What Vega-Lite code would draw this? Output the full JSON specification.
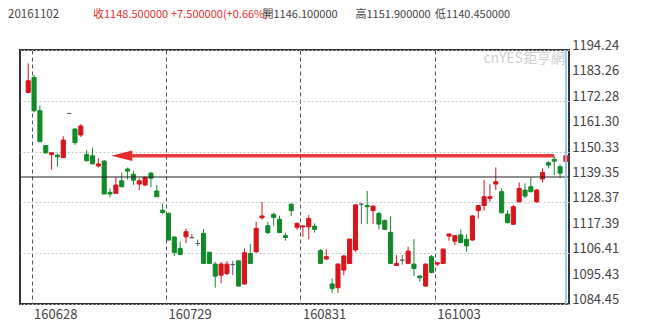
{
  "$schema": "https://vega.github.io/schema/vega-lite/v6.json",
  "width": 549,
  "height": 254,
  "autosize": {"type": "none"},
  "padding": {"left": 20, "top": 50, "right": 81, "bottom": 26},
  "background": "white",
  "config": {
    "view": {"stroke": "#333333", "strokeWidth": 2},
    "font": "Noto Sans CJK TC",
    "text": {"font": "Noto Sans CJK TC"}
  },
  "datasets": {
    "k": [
      {"d":"160627","o":1175.9,"h":1188.45,"l":1175.5,"c":1180.95},
      {"d":"160628","o":1182.4,"h":1183.4,"l":1167.3,"c":1168.0},
      {"d":"160629","o":1168.0,"h":1170.2,"l":1154.6,"c":1154.6},
      {"d":"160630","o":1152.9,"h":1153.2,"l":1149.5,"c":1149.8},
      {"d":"160701","o":1149.0,"h":1149.9,"l":1142.6,"c":1149.8},
      {"d":"160704","o":1148.8,"h":1149.5,"l":1143.8,"c":1148.1},
      {"d":"160705","o":1147.7,"h":1157.0,"l":1147.7,"c":1155.3},
      {"d":"160706","o":1166.8,"h":1166.8,"l":1166.8,"c":1166.8},
      {"d":"160707","o":1160.1,"h":1160.4,"l":1153.2,"c":1154.2},
      {"d":"160708","o":1157.5,"h":1162.2,"l":1156.7,"c":1161.4},
      {"d":"160711","o":1149.1,"h":1151.0,"l":1146.0,"c":1146.4},
      {"d":"160712","o":1148.5,"h":1152.1,"l":1144.8,"c":1145.0},
      {"d":"160713","o":1144.1,"h":1147.4,"l":1143.5,"c":1145.0},
      {"d":"160714","o":1146.2,"h":1146.7,"l":1132.0,"c":1132.0},
      {"d":"160715","o":1132.7,"h":1134.4,"l":1130.5,"c":1132.0},
      {"d":"160718","o":1132.3,"h":1139.2,"l":1132.3,"c":1135.9},
      {"d":"160719","o":1137.7,"h":1141.3,"l":1135.1,"c":1135.1},
      {"d":"160720","o":1142.8,"h":1143.4,"l":1138.3,"c":1141.9},
      {"d":"160721","o":1140.5,"h":1142.0,"l":1135.9,"c":1138.0},
      {"d":"160722","o":1136.3,"h":1138.7,"l":1133.7,"c":1137.7},
      {"d":"160725","o":1135.9,"h":1139.4,"l":1135.4,"c":1139.2},
      {"d":"160726","o":1141.0,"h":1141.6,"l":1134.9,"c":1138.8},
      {"d":"160727","o":1133.3,"h":1135.9,"l":1130.8,"c":1130.8},
      {"d":"160728","o":1125.0,"h":1127.9,"l":1123.3,"c":1124.0},
      {"d":"160729","o":1123.6,"h":1124.0,"l":1112.1,"c":1112.1},
      {"d":"160801","o":1113.4,"h":1113.6,"l":1105.3,"c":1106.8},
      {"d":"160802","o":1108.5,"h":1111.4,"l":1105.6,"c":1105.9},
      {"d":"160803","o":1113.5,"h":1117.1,"l":1110.7,"c":1115.7},
      {"d":"160804","o":1113.1,"h":1114.7,"l":1113.1,"c":1113.1},
      {"d":"160805","o":1110.6,"h":1112.2,"l":1109.4,"c":1110.6},
      {"d":"160808","o":1115.0,"h":1116.9,"l":1101.7,"c":1102.0},
      {"d":"160809","o":1106.8,"h":1107.1,"l":1101.7,"c":1102.0},
      {"d":"160810","o":1101.7,"h":1102.7,"l":1091.5,"c":1096.5},
      {"d":"160811","o":1096.9,"h":1102.7,"l":1093.4,"c":1101.7},
      {"d":"160812","o":1097.6,"h":1103.0,"l":1096.9,"c":1101.7},
      {"d":"160815","o":1101.5,"h":1103.1,"l":1096.9,"c":1101.5},
      {"d":"160816","o":1103.1,"h":1103.4,"l":1091.9,"c":1092.2},
      {"d":"160817","o":1093.1,"h":1108.5,"l":1092.7,"c":1106.6},
      {"d":"160818","o":1106.3,"h":1110.3,"l":1101.7,"c":1102.0},
      {"d":"160819","o":1107.0,"h":1120.0,"l":1106.7,"c":1117.1},
      {"d":"160822","o":1121.7,"h":1128.6,"l":1121.0,"c":1122.5},
      {"d":"160823","o":1118.3,"h":1120.0,"l":1114.7,"c":1115.3},
      {"d":"160824","o":1123.2,"h":1123.9,"l":1118.3,"c":1121.9},
      {"d":"160825","o":1121.1,"h":1122.6,"l":1115.3,"c":1115.3},
      {"d":"160826","o":1114.0,"h":1115.3,"l":1111.8,"c":1113.2},
      {"d":"160829","o":1127.6,"h":1127.9,"l":1122.5,"c":1124.8},
      {"d":"160830","o":1117.6,"h":1119.7,"l":1116.5,"c":1119.3},
      {"d":"160831","o":1117.8,"h":1118.4,"l":1113.5,"c":1118.2},
      {"d":"160901","o":1117.8,"h":1122.9,"l":1112.5,"c":1121.4},
      {"d":"160902","o":1118.1,"h":1119.3,"l":1115.3,"c":1116.7},
      {"d":"160905","o":1107.5,"h":1108.2,"l":1101.7,"c":1102.0},
      {"d":"160906","o":1103.9,"h":1108.1,"l":1103.4,"c":1104.9},
      {"d":"160907","o":1093.1,"h":1095.5,"l":1089.3,"c":1091.1},
      {"d":"160908","o":1091.5,"h":1102.0,"l":1089.3,"c":1101.7},
      {"d":"160909","o":1099.1,"h":1105.6,"l":1096.9,"c":1105.2},
      {"d":"160912","o":1102.0,"h":1112.8,"l":1101.7,"c":1112.5},
      {"d":"160913","o":1107.8,"h":1127.5,"l":1107.0,"c":1127.3},
      {"d":"160914","o":1127.6,"h":1127.9,"l":1119.0,"c":1127.6},
      {"d":"160915","o":1127.0,"h":1133.3,"l":1119.0,"c":1126.5},
      {"d":"160916","o":1124.8,"h":1127.0,"l":1119.0,"c":1126.8},
      {"d":"160919","o":1123.6,"h":1124.3,"l":1116.7,"c":1119.0},
      {"d":"160920","o":1120.5,"h":1121.0,"l":1116.4,"c":1116.7},
      {"d":"160921","o":1115.4,"h":1122.5,"l":1101.7,"c":1102.0},
      {"d":"160922","o":1101.1,"h":1105.6,"l":1101.0,"c":1102.0},
      {"d":"160923","o":1103.4,"h":1105.6,"l":1101.5,"c":1103.4},
      {"d":"160926","o":1102.0,"h":1109.2,"l":1101.7,"c":1107.3},
      {"d":"160927","o":1101.7,"h":1112.5,"l":1096.5,"c":1099.8},
      {"d":"160928","o":1096.5,"h":1097.0,"l":1094.1,"c":1095.8},
      {"d":"160929","o":1092.2,"h":1102.0,"l":1091.9,"c":1101.7},
      {"d":"160930","o":1104.9,"h":1105.6,"l":1097.7,"c":1098.1},
      {"d":"161003","o":1101.7,"h":1102.6,"l":1100.8,"c":1102.3},
      {"d":"161004","o":1102.0,"h":1108.5,"l":1101.7,"c":1108.2},
      {"d":"161005","o":1113.8,"h":1115.0,"l":1111.8,"c":1114.7},
      {"d":"161006","o":1111.6,"h":1114.3,"l":1109.9,"c":1114.0},
      {"d":"161007","o":1114.3,"h":1116.7,"l":1110.7,"c":1111.0},
      {"d":"161010","o":1112.4,"h":1114.7,"l":1107.0,"c":1109.6},
      {"d":"161011","o":1112.1,"h":1122.9,"l":1111.8,"c":1122.5},
      {"d":"161012","o":1124.8,"h":1127.3,"l":1121.4,"c":1127.0},
      {"d":"161013","o":1127.0,"h":1138.0,"l":1124.8,"c":1130.8},
      {"d":"161014","o":1130.1,"h":1136.3,"l":1128.6,"c":1130.8},
      {"d":"161017","o":1136.3,"h":1143.5,"l":1133.7,"c":1137.3},
      {"d":"161018","o":1133.0,"h":1134.4,"l":1123.6,"c":1123.9},
      {"d":"161019","o":1123.3,"h":1125.0,"l":1119.3,"c":1119.6},
      {"d":"161020","o":1118.9,"h":1127.2,"l":1118.6,"c":1126.5},
      {"d":"161021","o":1128.6,"h":1137.0,"l":1128.3,"c":1134.4},
      {"d":"161024","o":1133.7,"h":1136.6,"l":1130.1,"c":1131.1},
      {"d":"161025","o":1135.1,"h":1139.2,"l":1132.7,"c":1133.0},
      {"d":"161026","o":1128.6,"h":1134.1,"l":1128.2,"c":1133.7},
      {"d":"161027","o":1138.5,"h":1143.1,"l":1137.0,"c":1141.3},
      {"d":"161028","o":1145.5,"h":1146.2,"l":1143.1,"c":1144.5},
      {"d":"161031","o":1147.0,"h":1148.4,"l":1140.2,"c":1146.2},
      {"d":"161101","o":1143.8,"h":1144.8,"l":1138.8,"c":1141.0},
      {"d":"161102","o":1146.1,"h":1151.9,"l":1140.45,"c":1148.5}
    ],
    "ticks": [
      {"v": 1084.45}, {"v": 1095.43}, {"v": 1106.41}, {"v": 1117.39}, {"v": 1128.37}, {"v": 1139.35},
      {"v": 1150.33}, {"v": 1161.30}, {"v": 1172.28}, {"v": 1183.26}, {"v": 1194.24}
    ]
  },
  "layer": [
    {
      "data": {"name": "k"},
      "mark": {"type": "rule", "strokeWidth": 1},
      "encoding": {
        "x": {
          "field": "d", "type": "ordinal",
          "scale": {"type": "band", "paddingInner": 0.3, "paddingOuter": 0.615, "align": 0.857, "round": false},
          "axis": {
            "values": ["160628", "160729", "160831", "161003"],
            "bandPosition": 0, "title": null, "domain": false, "ticks": false, "tickSize": 0,
            "labelAngle": 0, "labelAlign": "left", "labelBaseline": "top", "labelPadding": 4,
            "labelFontSize": 13, "labelColor": "#444444", "labelFont": "Noto Sans CJK TC",
            "grid": true, "gridDash": [4, 3], "gridColor": "#555555", "gridWidth": 1
          }
        },
        "y": {
          "field": "l", "type": "quantitative",
          "scale": {"domain": [1084.45, 1194.24], "nice": false, "zero": false},
          "axis": {
            "orient": "right",
            "values": [1084.45, 1095.43, 1106.41, 1117.39, 1128.37, 1139.35, 1150.33, 1161.3, 1172.28, 1183.26, 1194.24],
            "title": null, "domain": false, "ticks": false, "labels": false,
            "grid": true, "gridColor": "#c4c4c4", "gridDash": [2, 2], "gridWidth": 1
          }
        },
        "y2": {"field": "h"},
        "color": {
          "condition": [
            {"test": "datum.c > datum.o", "value": "#d8141c"},
            {"test": "datum.c < datum.o", "value": "#13892a"}
          ],
          "value": "#5a5a66"
        }
      }
    },
    {
      "data": {"name": "k"},
      "mark": {"type": "bar", "strokeWidth": 1},
      "encoding": {
        "x": {"field": "d", "type": "ordinal"},
        "y": {"field": "o", "type": "quantitative"},
        "y2": {"field": "c"},
        "fill": {
          "condition": [
            {"test": "datum.c > datum.o", "value": "#d8141c"},
            {"test": "datum.c < datum.o", "value": "#13892a"}
          ],
          "value": "#5a5a66"
        },
        "stroke": {
          "condition": [
            {"test": "datum.c > datum.o", "value": "#d8141c"},
            {"test": "datum.c < datum.o", "value": "#13892a"}
          ],
          "value": "#5a5a66"
        }
      }
    },
    {
      "data": {"values": [{"level": 1139.35}]},
      "mark": {"type": "rule", "color": "#222222", "strokeWidth": 1},
      "encoding": {"y": {"field": "level", "type": "quantitative"}}
    },
    {
      "data": {"values": [{"close": 1148.5}]},
      "mark": {"type": "rule", "color": "#e52b2b", "strokeWidth": 3.5, "opacity": 0.92},
      "encoding": {
        "x": {"datum": "160720", "type": "ordinal"},
        "x2": {"datum": "161031"},
        "y": {"field": "close", "type": "quantitative"}
      }
    },
    {
      "data": {"values": [{"close": 1148.5}]},
      "mark": {"type": "point", "shape": "M -1 0 L 1 -0.5 L 1 0.5 Z", "size": 441, "filled": true, "color": "#e52b2b", "opacity": 1, "strokeWidth": 0},
      "encoding": {
        "x": {"datum": "160719", "type": "ordinal"},
        "y": {"field": "close", "type": "quantitative"}
      }
    },
    {
      "data": {"values": [{"d": "161102"}]},
      "mark": {"type": "rule", "color": "#8cc6ef", "strokeWidth": 2, "opacity": 0.9},
      "encoding": {"x": {"field": "d", "type": "ordinal"}}
    },
    {
      "data": {"name": "ticks"},
      "mark": {"type": "text", "align": "left", "baseline": "alphabetic", "dx": 6.3, "fontSize": 13, "color": "#444444"},
      "encoding": {
        "x": {"datum": "161102", "type": "ordinal"},
        "y": {"field": "v", "type": "quantitative"},
        "text": {"field": "v", "type": "quantitative", "format": ".2f"}
      }
    },
    {
      "data": {"values": [{"t": "cnYES鉅亨網"}]},
      "mark": {"type": "text", "align": "right", "baseline": "middle", "dx": -1, "fontSize": 14, "color": "#cfcfcf"},
      "encoding": {
        "x": {"datum": "161102", "type": "ordinal"},
        "y": {"datum": 1190.35, "type": "quantitative"},
        "text": {"field": "t"}
      }
    },
    {
      "data": {"values": [{"t": "20161102"}]},
      "mark": {"type": "text", "align": "left", "baseline": "alphabetic", "dx": -20.2, "fontSize": 11.5, "color": "#444444"},
      "encoding": {
        "x": {"datum": "160627", "type": "ordinal"},
        "y": {"datum": 1207.94, "type": "quantitative"},
        "text": {"field": "t"}
      }
    },
    {
      "data": {"values": [{"t": "收1148.500000"}]},
      "mark": {"type": "text", "align": "left", "baseline": "alphabetic", "dx": 64.8, "fontSize": 11, "color": "#e03030"},
      "encoding": {
        "x": {"datum": "160627", "type": "ordinal"},
        "y": {"datum": 1207.94, "type": "quantitative"},
        "text": {"field": "t"}
      }
    },
    {
      "data": {"values": [{"t": "+7.500000(+0.66%)"}]},
      "mark": {"type": "text", "align": "left", "baseline": "alphabetic", "dx": 142.8, "fontSize": 11, "color": "#e03030"},
      "encoding": {
        "x": {"datum": "160627", "type": "ordinal"},
        "y": {"datum": 1207.94, "type": "quantitative"},
        "text": {"field": "t"}
      }
    },
    {
      "data": {"values": [{"t": "開1146.100000"}]},
      "mark": {"type": "text", "align": "left", "baseline": "alphabetic", "dx": 234.3, "fontSize": 11, "color": "#444444"},
      "encoding": {
        "x": {"datum": "160627", "type": "ordinal"},
        "y": {"datum": 1207.94, "type": "quantitative"},
        "text": {"field": "t"}
      }
    },
    {
      "data": {"values": [{"t": "高1151.900000"}]},
      "mark": {"type": "text", "align": "left", "baseline": "alphabetic", "dx": 327.3, "fontSize": 11, "color": "#444444"},
      "encoding": {
        "x": {"datum": "160627", "type": "ordinal"},
        "y": {"datum": 1207.94, "type": "quantitative"},
        "text": {"field": "t"}
      }
    },
    {
      "data": {"values": [{"t": "低1140.450000"}]},
      "mark": {"type": "text", "align": "left", "baseline": "alphabetic", "dx": 406.8, "fontSize": 11, "color": "#444444"},
      "encoding": {
        "x": {"datum": "160627", "type": "ordinal"},
        "y": {"datum": 1207.94, "type": "quantitative"},
        "text": {"field": "t"}
      }
    }
  ]
}
